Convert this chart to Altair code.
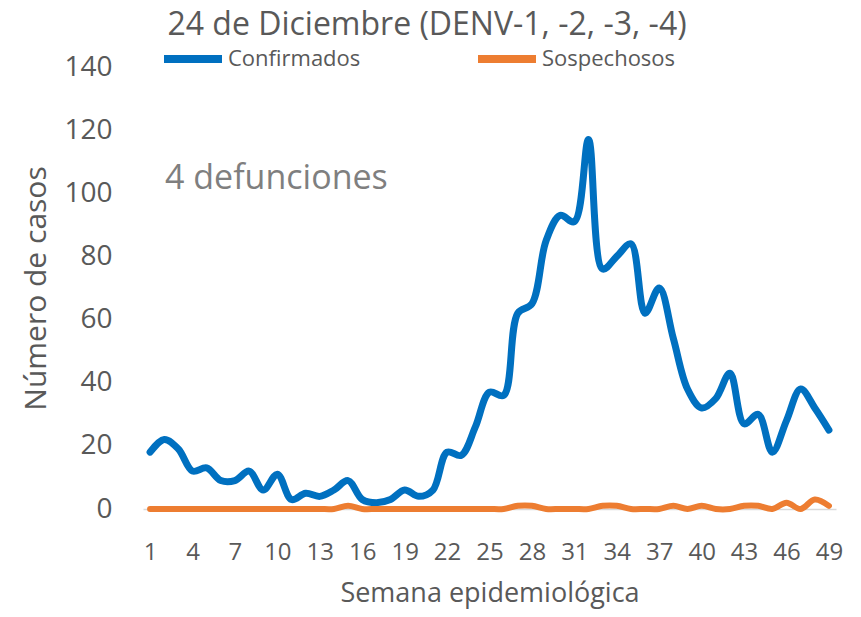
import altair as alt
import pandas as pd

# ---- data ----
semanas = list(range(1, 50))
confirmados = [18, 22, 19, 12, 13, 9, 9, 12, 6, 11,
               3, 5, 4, 6, 9, 3, 2, 3, 6, 4,
               6, 18, 17, 26, 37, 36, 62, 65, 85, 93,
               91, 117, 76, 80, 84, 62, 70, 54, 38, 32,
               35, 43, 27, 30, 18, 28, 38, 32, 25]
sospechosos = [0, 0, 0, 0, 0, 0, 0, 0, 0, 0,
               0, 0, 0, 0, 1, 0, 0, 0, 0, 0,
               0, 0, 0, 0, 0, 0, 1, 1, 0, 0,
               0, 0, 1, 1, 0, 0, 0, 1, 0, 1,
               0, 0, 1, 1, 0, 2, 0, 3, 1]
series = ["Confirmados", "Sospechosos"]
colores = ["#0070C0", "#ED7D31"]
x_ticks = [1, 4, 7, 10, 13, 16, 19, 22, 25, 28, 31, 34, 37, 40, 43, 46, 49]
y_ticks = [0, 20, 40, 60, 80, 100, 120, 140]
titulo = "24 de Diciembre (DENV-1, -2, -3, -4)"
anotacion = "4 defunciones"

df = pd.DataFrame({
    "semana": semanas * 2,
    "casos": confirmados + sospechosos,
    "serie": [series[0]] * len(semanas) + [series[1]] * len(semanas),
})

FONT = "Open Sans"
GRAY = "#595959"

color = alt.Color(
    "serie:N",
    scale=alt.Scale(domain=series, range=colores),
    sort=series,
    legend=alt.Legend(
        title=None,
        orient="none",
        legendX=17,
        legendY=-41,
        direction="horizontal",
        symbolType="stroke",
        symbolSize=3364,
        symbolStrokeWidth=8,
        labelFont=FONT,
        labelFontSize=22,
        labelColor=GRAY,
        labelOffset=2,
        columnPadding=100,
        gridAlign="all",
        padding=0,
        labelLimit=300,
    ),
)

x = alt.X(
    "semana:Q",
    title="Semana epidemiológica",
    scale=alt.Scale(domain=[0.5, 49.5], nice=False, zero=False),
    axis=alt.Axis(
        values=x_ticks, grid=False, ticks=False, tickSize=0,
        domainColor="#d9d9d9", domainWidth=1.5,
        labelFont=FONT, labelFontSize=24, labelColor=GRAY, labelPadding=31,
        labelFlush=False, labelOverlap=False,
        titleFont=FONT, titleFontSize=27, titleColor=GRAY,
        titleFontWeight="normal", titlePadding=16,
    ),
)
y = alt.Y(
    "casos:Q",
    title="Número de casos",
    scale=alt.Scale(domain=[0, 140], nice=False),
    axis=alt.Axis(
        values=y_ticks, grid=False, ticks=False, tickSize=0, domain=False,
        labelFont=FONT, labelFontSize=28, labelColor=GRAY, labelPadding=31,
        titleFont=FONT, titleFontSize=30, titleColor=GRAY,
        titleFontWeight="normal", titlePadding=12,
    ),
)

conf = alt.Chart(df).transform_filter(alt.datum.serie == series[0]).mark_line(
    interpolate="catmull-rom", strokeWidth=7, strokeCap="round", strokeJoin="round"
).encode(x=x, y=y, color=color)

sosp = alt.Chart(df).transform_filter(alt.datum.serie == series[1]).mark_line(
    interpolate="catmull-rom", strokeWidth=6, strokeCap="round", strokeJoin="round"
).encode(x=x, y=y, color=color)

texto = alt.Chart(pd.DataFrame({"t": [anotacion]})).mark_text(
    font=FONT, fontSize=34, color="#7f7f7f", align="left", baseline="alphabetic"
).encode(text="t:N", x=alt.value(22), y=alt.value(122))

titulo_txt = alt.Chart(pd.DataFrame({"t": [titulo]})).mark_text(
    font=FONT, fontSize=32, color=GRAY, align="center", baseline="alphabetic"
).encode(text="t:N", x=alt.value(284), y=alt.value(-32))

chart = alt.layer(conf, sosp, texto, titulo_txt).properties(
    width=693,
    height=442,
    autosize=alt.AutoSizeParams(type="none"),
    padding={"left": 135, "top": 59, "right": 17, "bottom": 100},
).configure_view(stroke=None)

chart.save("out.html", embed_options={"renderer": "svg", "actions": False})
